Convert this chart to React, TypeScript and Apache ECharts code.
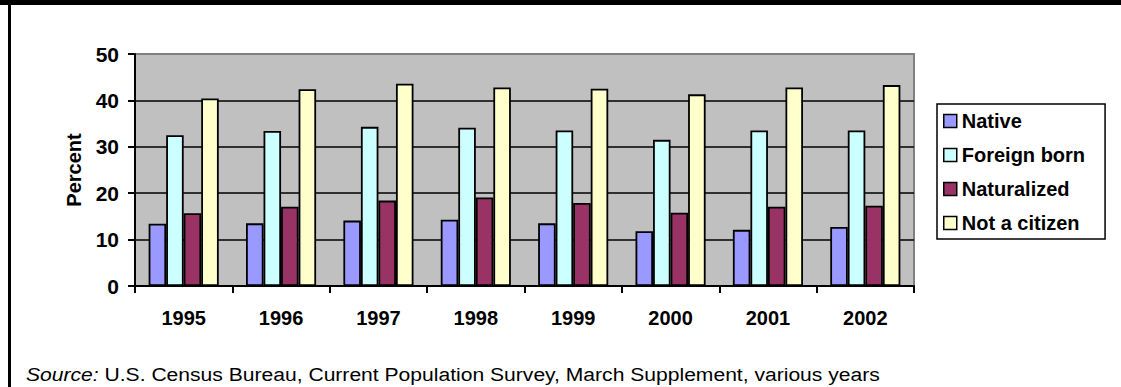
import React, { useEffect, useRef } from "react";
import * as echarts from "echarts";

const years = ["1995", "1996", "1997", "1998", "1999", "2000", "2001", "2002"];
const native = [13.4, 13.5, 14.1, 14.3, 13.5, 11.8, 12.1, 12.7];
const foreignBorn = [32.5, 33.4, 34.3, 34.1, 33.5, 31.5, 33.5, 33.5];
const naturalized = [15.7, 17.1, 18.4, 19.1, 17.9, 15.8, 17.1, 17.3];
const notACitizen = [40.4, 42.4, 43.6, 42.8, 42.5, 41.3, 42.8, 43.3];

const seriesNames = ["Native", "Foreign born", "Naturalized", "Not a citizen"];
const seriesColors = ["#9999FF", "#CCFFFF", "#993366", "#FFFFCC"];
const seriesValues = [native, foreignBorn, naturalized, notACitizen];

const yTicks = [0, 10, 20, 30, 40, 50];
const sourceLabel = "Source:";
const sourceText = " U.S. Census Bureau, Current Population Survey, March Supplement, various years";

const FONT = 'Arial, "Liberation Sans", Helvetica, sans-serif';

export default function App() {
  const ref = useRef<HTMLDivElement>(null);

  useEffect(() => {
    if (!ref.current) return;
    const chart = echarts.init(ref.current, undefined, { renderer: "svg" });
    chart.setOption({
      animation: false,
      backgroundColor: "#FFFFFF",
      textStyle: { fontFamily: FONT },
      grid: {
        left: 135,
        right: 207,
        top: 54,
        bottom: 101,
        show: true,
        backgroundColor: "#C0C0C0",
        borderColor: "#808080",
        borderWidth: 2,
      },
      legend: {
        orient: "vertical",
        left: 937,
        top: 104,
        padding: [7, 20, 6, 6],
        itemGap: 14,
        itemWidth: 13,
        itemHeight: 13,
        borderColor: "#000",
        borderWidth: 1.5,
        backgroundColor: "#FFFFFF",
        icon: "rect",
        itemStyle: { borderColor: "#000", borderWidth: 1.5 },
        textStyle: {
          fontFamily: FONT,
          fontSize: 20,
          fontWeight: "bold",
          color: "#000",
          lineHeight: 20,
        },
        data: seriesNames,
      },
      xAxis: {
        type: "category",
        data: years,
        boundaryGap: true,
        axisLine: { lineStyle: { color: "#000", width: 2 } },
        axisTick: { show: true, length: 7, lineStyle: { color: "#000", width: 2 } },
        axisLabel: {
          margin: 22,
          fontFamily: FONT,
          fontSize: 20,
          fontWeight: "bold",
          color: "#000",
        },
        splitLine: { show: false },
      },
      yAxis: {
        type: "value",
        min: yTicks[0],
        max: yTicks[yTicks.length - 1],
        interval: 10,
        name: "Percent",
        nameLocation: "middle",
        nameGap: 51,
        nameRotate: 90,
        nameTextStyle: {
          fontFamily: FONT,
          fontSize: 20,
          fontWeight: "bold",
          color: "#000",
        },
        axisLine: { show: true, lineStyle: { color: "#000", width: 2 } },
        axisTick: { show: true, length: 7, lineStyle: { color: "#000", width: 2 } },
        axisLabel: {
          margin: 16,
          fontFamily: FONT,
          fontSize: 21,
          fontWeight: "bold",
          color: "#000",
        },
        splitLine: {
          show: true,
          showMinLine: false,
          showMaxLine: false,
          lineStyle: { color: "#000", width: 1.5 },
        },
      },
      series: seriesNames.map((name, i) => ({
        name,
        type: "bar",
        data: seriesValues[i],
        barGap: "0%",
        barCategoryGap: "28%",
        itemStyle: {
          color: seriesColors[i],
          borderColor: "#000",
          borderWidth: 1.8,
        },
      })),
      graphic: [
        {
          type: "rect",
          shape: { x: 0, y: 0, width: 1121, height: 5 },
          style: { fill: "#000" },
          silent: true,
        },
        {
          type: "rect",
          shape: { x: 8, y: 0, width: 3, height: 387 },
          style: { fill: "#000" },
          silent: true,
        },
        {
          type: "text",
          x: 26,
          y: 365,
          scaleX: 1.11,
          style: {
            text: "{i|" + sourceLabel + "}" + sourceText,
            fontFamily: FONT,
            fontSize: 19,
            fill: "#000",
            rich: {
              i: { fontStyle: "italic", fontFamily: FONT, fontSize: 19, fill: "#000" },
            },
          },
          silent: true,
        },
      ],
    });
    return () => chart.dispose();
  }, []);

  return (
    <div
      ref={ref}
      style={{ position: "fixed", left: 0, top: 0, width: 1121, height: 387 }}
    />
  );
}
